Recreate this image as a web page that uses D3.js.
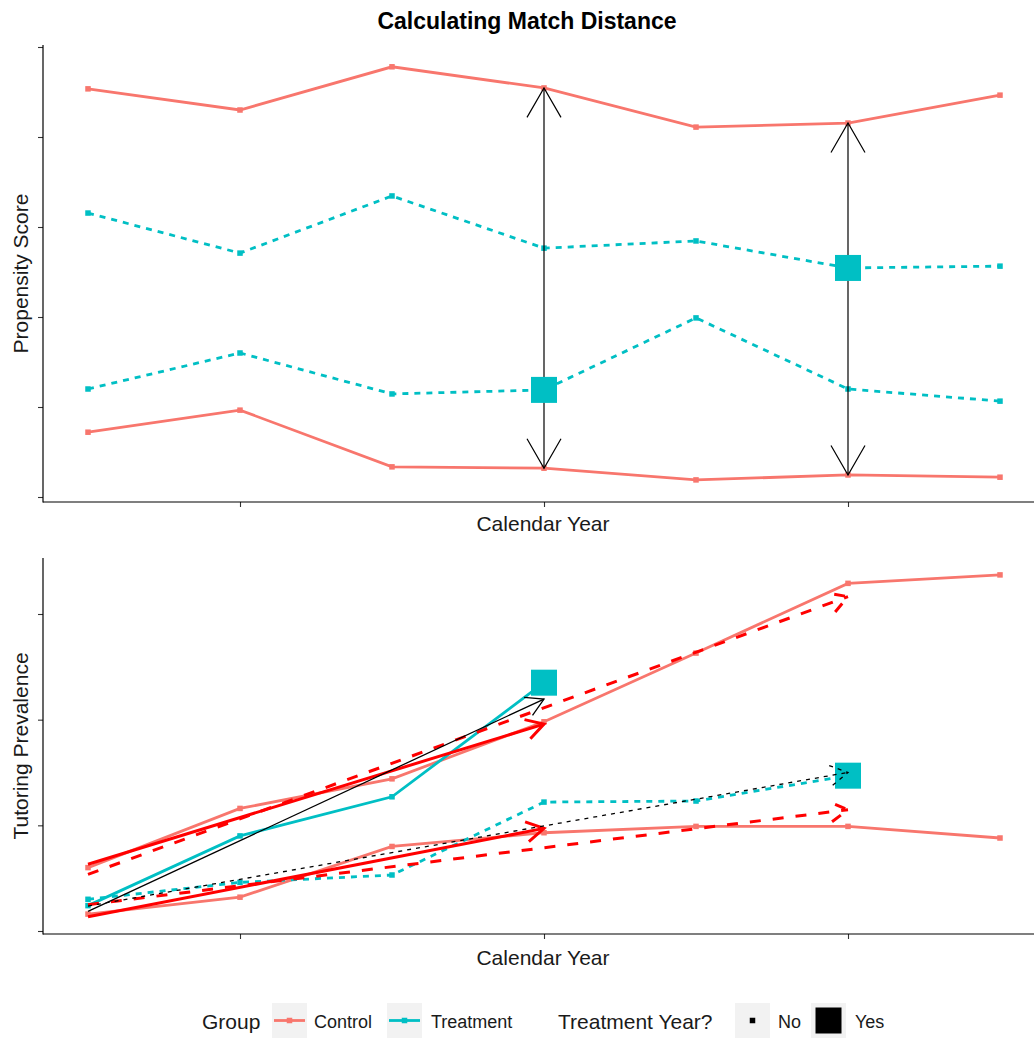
<!DOCTYPE html>
<html>
<head>
<meta charset="utf-8">
<script src="https://cdn.jsdelivr.net/npm/d3@7"></script>
<style>
  body { margin: 0; background: #fff; }
  text { font-family: "Liberation Sans", Arial, sans-serif; }
</style>
</head>
<body>
<svg id="chart" width="1034" height="1038"></svg>
<script>
// Calendar years (1..7); ticks only on the even years, no labels
const years = [1, 2, 3, 4, 5, 6, 7];
const yearTicks = [2, 4, 6];

// Propensity score of each unit by year
const psControlHigh = [0.907, 0.860, 0.956, 0.909, 0.822, 0.831, 0.893];
const psControlLow  = [0.144, 0.193, 0.067, 0.064, 0.038, 0.049, 0.044];
const psTreated4    = [0.240, 0.320, 0.229, 0.238, 0.398, 0.240, 0.213];
const psTreated6    = [0.631, 0.542, 0.669, 0.553, 0.569, 0.509, 0.513];
const psTicks = [0, 0.2, 0.4, 0.6, 0.8, 1.0];

// Tutoring prevalence; treated units are shown up to their treatment year
const tpControlHigh = [0.060, 0.116, 0.144, 0.198, 0.263, 0.329, 0.337];
const tpControlLow  = [0.016, 0.032, 0.080, 0.093, 0.099, 0.099, 0.088];
const tpTreated4    = [0.024, 0.090, 0.127, 0.235];
const tpTreated6    = [0.030, 0.046, 0.053, 0.122, 0.123, 0.147];
const tpTicks = [0, 0.1, 0.2, 0.3];

// Treatment year of each treated unit
const treatYears = [4, 6];

// Group labels and colours
const groups = ["Control", "Treatment"];
const groupColors = ["#F8766D", "#00BFC4"];
const sizeLabels = ["No", "Yes"];

const W = 1034, H = 1038;
const svg = d3.select("#chart");
svg.append("rect").attr("width", W).attr("height", H).attr("fill", "#fff");

const CONTROL = groupColors[0], TREAT = groupColors[1];
const SMALL = 5.5, BIG = 26;
const DASH_GROUP = "6,6", DASH_RED = "11,12", DASH_BLACK = "4,5";

const x = d3.scaleLinear().domain([0.7, 7.3]).range([42.4, 1045.6]);

// Panel frames
const topPanel = { top: 45, bottom: 502, left: 43 };
const botPanel = { top: 558, bottom: 934, left: 43 };

const yPS = d3.scaleLinear().domain([0, 1]).range([497, 47]);
const yTP = d3.scaleLinear().domain([0, 0.3]).range([931, 614]);

function drawAxes(panel, yScale, ticks) {
  const g = svg.append("g");
  const ax = g.append("g").attr("transform", `translate(${panel.left},0)`)
    .call(d3.axisLeft(yScale).tickValues(ticks).tickFormat("").tickSize(5));
  ax.select(".domain").remove();
  ax.selectAll(".tick line").attr("stroke", "#333").attr("stroke-width", 1.1);
  const bx = g.append("g").attr("transform", `translate(0,${panel.bottom})`)
    .call(d3.axisBottom(x).tickValues(yearTicks).tickFormat("").tickSize(5));
  bx.select(".domain").remove();
  bx.selectAll(".tick line").attr("stroke", "#333").attr("stroke-width", 1.1);
  g.append("line").attr("x1", panel.left).attr("x2", panel.left)
    .attr("y1", panel.top).attr("y2", panel.bottom + 0.5)
    .attr("stroke", "#000").attr("stroke-width", 1.2);
  g.append("line").attr("x1", panel.left).attr("x2", W)
    .attr("y1", panel.bottom).attr("y2", panel.bottom)
    .attr("stroke", "#000").attr("stroke-width", 1.2);
}

function drawSeries(g, values, yScale, color, dash, treatYear) {
  const line = d3.line().x((d, i) => x(years[i])).y(d => yScale(d));
  g.append("path").datum(values).attr("d", line)
    .attr("fill", "none").attr("stroke", color).attr("stroke-width", 2.8)
    .attr("stroke-dasharray", dash || null);
  g.selectAll(null).data(values.map((v, i) => ({ yr: years[i], v })).filter(d => d.yr !== treatYear))
    .enter().append("rect")
    .attr("x", d => x(d.yr) - SMALL / 2).attr("y", d => yScale(d.v) - SMALL / 2)
    .attr("width", SMALL).attr("height", SMALL).attr("fill", color);
}

function bigSquare(g, yr, v, yScale) {
  g.append("rect").attr("x", x(yr) - BIG / 2).attr("y", yScale(v) - BIG / 2)
    .attr("width", BIG).attr("height", BIG).attr("fill", TREAT);
}

// Open arrow from (x1,y1) to (x2,y2)
function arrow(g, x1, y1, x2, y2, color, width, dash, headLen) {
  g.append("line").attr("x1", x1).attr("y1", y1).attr("x2", x2).attr("y2", y2)
    .attr("stroke", color).attr("stroke-width", width).attr("stroke-dasharray", dash || null);
  const ang = Math.atan2(y2 - y1, x2 - x1), spread = Math.PI / 6;
  const a1 = [x2 - headLen * Math.cos(ang - spread), y2 - headLen * Math.sin(ang - spread)];
  const a2 = [x2 - headLen * Math.cos(ang + spread), y2 - headLen * Math.sin(ang + spread)];
  g.append("path").attr("d", `M${a1[0]},${a1[1]}L${x2},${y2}L${a2[0]},${a2[1]}`)
    .attr("fill", "none").attr("stroke", color).attr("stroke-width", width)
    .attr("stroke-dasharray", dash || null).attr("stroke-linejoin", "miter");
}

// Least-squares line through the values of years 1..T
function linearFit(values, T) {
  const xs = years.slice(0, T), ys = values.slice(0, T);
  const mx = d3.mean(xs), my = d3.mean(ys);
  const slope = d3.sum(xs, (xv, i) => (xv - mx) * (ys[i] - my)) / d3.sum(xs, xv => (xv - mx) ** 2);
  return t => my + slope * (t - mx);
}

// ---------- Title ----------
svg.append("text").attr("x", 527).attr("y", 29).attr("text-anchor", "middle")
  .attr("font-size", 23).attr("font-weight", "bold").attr("fill", "#000")
  .text("Calculating Match Distance");

// ---------- Top panel: propensity score ----------
drawAxes(topPanel, yPS, psTicks);
const gTop = svg.append("g");
drawSeries(gTop, psControlHigh, yPS, CONTROL, null, null);
drawSeries(gTop, psControlLow, yPS, CONTROL, null, null);
drawSeries(gTop, psTreated4, yPS, TREAT, DASH_GROUP, 4);
drawSeries(gTop, psTreated6, yPS, TREAT, DASH_GROUP, 6);

// Distance arrows from each treated unit to the controls in its treatment year
[[4, psTreated4], [6, psTreated6]].forEach(([T, vals]) => {
  const i = years.indexOf(T);
  const xx = x(T), y0 = yPS(vals[i]);
  arrow(gTop, xx, y0, xx, yPS(psControlHigh[i]), "#000", 1.2, null, 34);
  arrow(gTop, xx, y0, xx, yPS(psControlLow[i]), "#000", 1.2, null, 34);
});
bigSquare(gTop, 4, psTreated4[3], yPS);
bigSquare(gTop, 6, psTreated6[5], yPS);

svg.append("text").attr("transform", `translate(28,${(topPanel.top + topPanel.bottom) / 2}) rotate(-90)`)
  .attr("text-anchor", "middle").attr("font-size", 21).attr("fill", "#1a1a1a").text("Propensity Score");
svg.append("text").attr("x", 543).attr("y", 531).attr("text-anchor", "middle")
  .attr("font-size", 21).attr("fill", "#1a1a1a").text("Calendar Year");

// ---------- Bottom panel: tutoring prevalence ----------
drawAxes(botPanel, yTP, tpTicks);
const gBot = svg.append("g");
drawSeries(gBot, tpControlHigh, yTP, CONTROL, null, null);
drawSeries(gBot, tpControlLow, yTP, CONTROL, null, null);
drawSeries(gBot, tpTreated4, yTP, TREAT, null, 4);
drawSeries(gBot, tpTreated6, yTP, TREAT, DASH_GROUP, 6);
bigSquare(gBot, 4, tpTreated4[3], yTP);
bigSquare(gBot, 6, tpTreated6[5], yTP);

// Pre-treatment trends of the controls, fitted up to each treatment year
treatYears.forEach(T => {
  const dash = T === 6 ? DASH_RED : null;
  [tpControlHigh, tpControlLow].forEach(vals => {
    const f = linearFit(vals, T);
    arrow(gBot, x(1), yTP(f(1)), x(T), yTP(f(T)), "#FF0000", 3, dash, 20);
  });
});
// Pre-treatment trends of the treated units
[[tpTreated4, 4, null], [tpTreated6, 6, DASH_BLACK]].forEach(([vals, T, dash]) => {
  const f = linearFit(vals, T);
  arrow(gBot, x(1), yTP(f(1)), x(T), yTP(f(T)), "#000", 1.3, dash, 20);
});

svg.append("text").attr("transform", `translate(28,${(botPanel.top + botPanel.bottom) / 2}) rotate(-90)`)
  .attr("text-anchor", "middle").attr("font-size", 21).attr("fill", "#1a1a1a").text("Tutoring Prevalence");
svg.append("text").attr("x", 543).attr("y", 965).attr("text-anchor", "middle")
  .attr("font-size", 21).attr("fill", "#1a1a1a").text("Calendar Year");

// ---------- Legend ----------
const leg = svg.append("g");
const keyTop = 1003, keySize = 35, keyMid = keyTop + keySize / 2;
leg.append("text").attr("x", 202).attr("y", 1029).attr("font-size", 21).attr("fill", "#1a1a1a").text("Group");
[[272, 314], [387, 431]].forEach(([kx, tx], i) => {
  leg.append("rect").attr("x", kx).attr("y", keyTop).attr("width", keySize).attr("height", keySize).attr("fill", "#F2F2F2");
  leg.append("line").attr("x1", kx + 2).attr("x2", kx + keySize - 2).attr("y1", keyMid).attr("y2", keyMid)
    .attr("stroke", groupColors[i]).attr("stroke-width", 2.8);
  leg.append("rect").attr("x", kx + keySize / 2 - SMALL / 2).attr("y", keyMid - SMALL / 2)
    .attr("width", SMALL).attr("height", SMALL).attr("fill", groupColors[i]);
  leg.append("text").attr("x", tx).attr("y", 1028).attr("font-size", 18).attr("fill", "#1a1a1a").text(groups[i]);
});
leg.append("text").attr("x", 558).attr("y", 1029).attr("font-size", 21).attr("fill", "#1a1a1a").text("Treatment Year?");
[[735, 778, SMALL], [811, 855, BIG]].forEach(([kx, tx, s], i) => {
  leg.append("rect").attr("x", kx).attr("y", keyTop).attr("width", keySize).attr("height", keySize).attr("fill", "#F2F2F2");
  leg.append("rect").attr("x", kx + keySize / 2 - s / 2).attr("y", keyMid - s / 2)
    .attr("width", s).attr("height", s).attr("fill", "#000");
  leg.append("text").attr("x", tx).attr("y", 1028).attr("font-size", 18).attr("fill", "#1a1a1a").text(sizeLabels[i]);
});
</script>
</body>
</html>
